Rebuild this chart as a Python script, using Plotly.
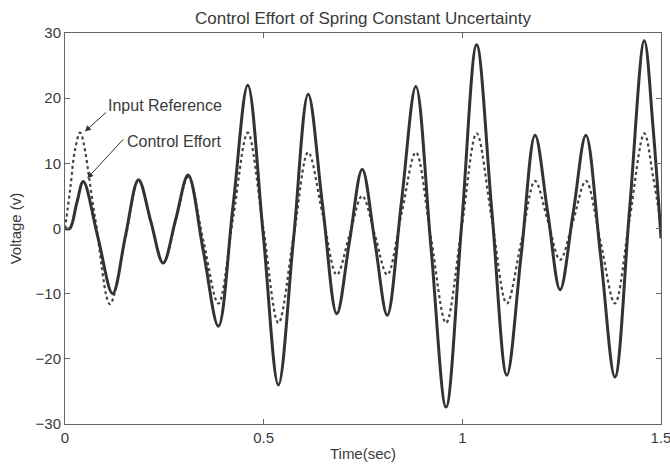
import plotly.graph_objects as go

# Control effort (solid) – readings at peaks, troughs and mid-swings
effort_t = [0.000, 0.012, 0.030, 0.046, 0.083, 0.120, 0.152, 0.185, 0.216, 0.247,
            0.279, 0.310, 0.348, 0.386, 0.423, 0.460, 0.499, 0.537, 0.575, 0.612,
            0.648, 0.684, 0.716, 0.748, 0.780, 0.811, 0.847, 0.883, 0.921, 0.959,
            0.998, 1.036, 1.074, 1.112, 1.148, 1.183, 1.215, 1.246, 1.279, 1.311,
            1.348, 1.384, 1.421, 1.458, 1.480, 1.500]
effort_v = [0.0, 0.0, 4.0, 7.2, -1.4, -10.0, -1.2, 7.5, 1.1, -5.3,
            1.5, 8.2, -3.4, -15.0, 3.5, 22.0, -1.0, -24.0, -1.7, 20.6,
            3.7, -13.1, -2.0, 9.1, -2.1, -13.3, 4.2, 21.8, -2.8, -27.4,
            0.4, 28.2, 2.9, -22.5, -4.1, 14.3, 2.4, -9.4, 2.4, 14.3,
            -4.2, -22.8, 3.0, 28.8, 15.5, -1.5]

# Input reference (dotted)
ref_t = [0.000, 0.013, 0.025, 0.038, 0.076, 0.113, 0.150, 0.185, 0.216, 0.247,
         0.279, 0.310, 0.348, 0.386, 0.423, 0.460, 0.499, 0.537, 0.575, 0.612,
         0.648, 0.684, 0.716, 0.748, 0.780, 0.811, 0.847, 0.883, 0.921, 0.959,
         0.998, 1.036, 1.074, 1.112, 1.148, 1.183, 1.215, 1.246, 1.279, 1.311,
         1.348, 1.384, 1.421, 1.458, 1.480, 1.500]
ref_v = [0.0, 6.0, 12.0, 14.7, 1.5, -11.6, -2.1, 7.4, 1.0, -5.3,
         1.3, 7.9, -1.8, -11.5, 1.6, 14.7, 0.1, -14.5, -1.4, 11.7,
         2.3, -7.1, -1.0, 5.0, -1.0, -7.1, 2.3, 11.7, -1.4, -14.5,
         0.0, 14.6, 1.5, -11.5, -2.1, 7.3, 1.2, -4.8, 1.2, 7.3,
         -2.1, -11.5, 1.5, 14.6, 8.0, 0.5]

x_ticks = [0, 0.5, 1, 1.5]
x_tick_text = ["0", "0.5", "1", "1.5"]
y_ticks = [-30, -20, -10, 0, 10, 20, 30]

FONT = "Liberation Sans, Arial, sans-serif"
INK = "#3a3a3a"
AXIS = "#666666"

fig = go.Figure()
fig.add_trace(go.Scatter(
    x=ref_t, y=ref_v, mode="lines", name="Input Reference",
    line=dict(color="#444444", width=2.2, dash="dot", shape="spline", smoothing=1.0),
))
fig.add_trace(go.Scatter(
    x=effort_t, y=effort_v, mode="lines", name="Control Effort",
    line=dict(color="#333333", width=3, shape="spline", smoothing=1.0),
))

axis_common = dict(
    showline=True, linecolor=AXIS, linewidth=1, mirror="ticks",
    ticks="inside", ticklen=5, tickcolor=AXIS, tickwidth=1,
    showgrid=False, zeroline=False, ticklabeloverflow="allow", automargin=False,
    tickfont=dict(family=FONT, size=15, color=INK),
)

fig.update_layout(
    width=670, height=467,
    margin=dict(l=65, r=9, t=33, b=43),
    paper_bgcolor="white", plot_bgcolor="white",
    showlegend=False,
    font=dict(family=FONT, color=INK),
    title=dict(
        text="Control Effort of Spring Constant Uncertainty",
        font=dict(family=FONT, size=17, color=INK),
        x=0.5, xref="paper", xanchor="center",
        y=1 - 18 / 467, yref="container", yanchor="middle",
    ),
    xaxis=dict(
        range=[0, 1.5], tickvals=x_ticks, ticktext=x_tick_text,
        title=dict(text="Time(sec)", font=dict(family=FONT, size=15, color=INK), standoff=3),
        **axis_common,
    ),
    yaxis=dict(
        range=[-30, 30], tickvals=y_ticks,
        title=dict(text="Voltage (v)", font=dict(family=FONT, size=15, color=INK), standoff=10),
        **axis_common,
    ),
)

# Callout arrows and their labels
arrow = dict(showarrow=True, arrowhead=2, arrowsize=1.2, arrowwidth=1,
             arrowcolor="#333333", axref="x", ayref="y", text="")
fig.add_annotation(x=0.050, y=14.9, ax=0.107, ay=18.0, **arrow)
fig.add_annotation(x=0.056, y=7.7, ax=0.150, ay=13.9, **arrow)
fig.add_annotation(x=0.103, y=18.8, text="Input Reference", showarrow=False,
                   xanchor="left", yanchor="middle",
                   font=dict(family=FONT, size=16, color=INK))
fig.add_annotation(x=0.151, y=13.3, text="Control Effort", showarrow=False,
                   xanchor="left", yanchor="middle",
                   font=dict(family=FONT, size=16, color=INK))

fig.write_html("out.html")
